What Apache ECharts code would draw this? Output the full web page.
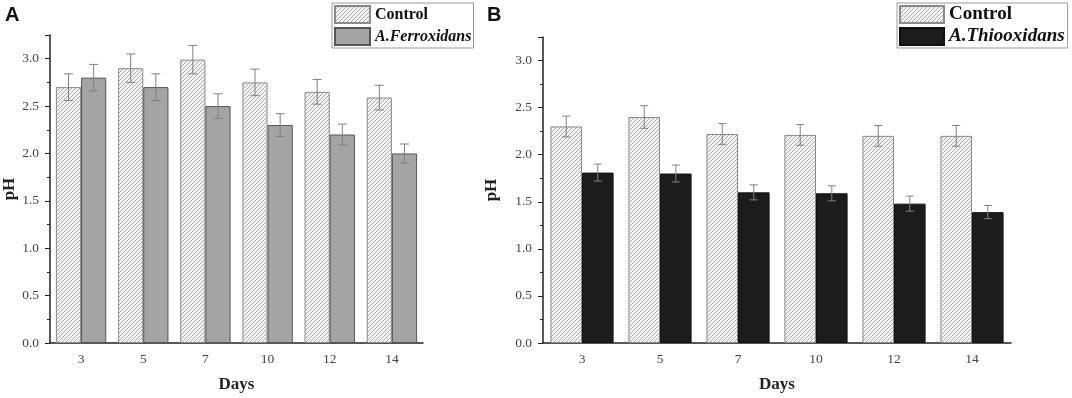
<!DOCTYPE html>
<html>
<head>
<meta charset="utf-8">
<title>pH vs days</title>
<script src="https://cdn.jsdelivr.net/npm/echarts@6/dist/echarts.min.js"></script>
<style>
    html, body { margin: 0; padding: 0; background: #fff; }
    #main { width: 1072px; height: 398px; }
</style>
</head>
<body>
<div id="main"></div>
<script>
// categories (days)
var days = ['3', '5', '7', '10', '12', '14'];

// panel A: control vs A. ferroxidans
var controlA = [2.70, 2.90, 2.99, 2.75, 2.65, 2.59];
var controlAErr = [0.14, 0.15, 0.15, 0.14, 0.13, 0.13];
var ferroA = [2.80, 2.70, 2.50, 2.30, 2.20, 2.00];
var ferroAErr = [0.14, 0.14, 0.13, 0.12, 0.11, 0.10];

// panel B: control vs A. thiooxidans
var controlB = [2.30, 2.40, 2.22, 2.21, 2.20, 2.20];
var controlBErr = [0.11, 0.12, 0.11, 0.11, 0.11, 0.11];
var thioB = [1.81, 1.80, 1.60, 1.59, 1.48, 1.39];
var thioBErr = [0.09, 0.09, 0.08, 0.08, 0.08, 0.07];

// y axis range / step
var yMax = 3.25;
var yStep = 0.5;

var SERIF = 'Liberation Serif';
var GAP = 0.19;

/**
 * diagonal hatch pattern used for the control bars
 *
 * @return {Object} canvas tile
 */
function hatch() {
    var c = document.createElement('canvas');
    c.width = 4;
    c.height = 4;
    var ctx = c.getContext('2d');
    ctx.fillStyle = '#f3f3f3';
    ctx.fillRect(0, 0, 4, 4);
    ctx.strokeStyle = '#a2a2a2';
    ctx.lineWidth = 0.9;
    ctx.beginPath();
    ctx.moveTo(-1, 5); ctx.lineTo(5, -1);
    ctx.moveTo(-1, 1); ctx.lineTo(1, -1);
    ctx.moveTo(3, 5); ctx.lineTo(5, 3);
    ctx.stroke();
    return c;
}
var hatchFill = { image: hatch(), repeat: 'repeat' };

/**
 * render error bars on top of the grouped bars
 *
 * @param  {number} side -1 for left bar, 1 for right bar
 * @param  {number} cap  half width of the caps
 * @return {Function} renderItem
 */
function errorBars(side, cap) {
    return function (params, api) {
        var cat = api.value(0);
        var mean = api.value(1);
        var err = api.value(2);
        var band = api.size([1, 0])[0];
        var dx = side * band * (1 - GAP) / 4;
        var top = api.coord([cat, mean + err]);
        var bot = api.coord([cat, mean - err]);
        var x = top[0] + dx;
        var style = { stroke: '#808080', lineWidth: 1 };
        return {
            type: 'group',
            children: [
                { type: 'line', shape: { x1: x, y1: top[1], x2: x, y2: bot[1] }, style: style },
                { type: 'line', shape: { x1: x - cap, y1: top[1], x2: x + cap, y2: top[1] }, style: style },
                { type: 'line', shape: { x1: x - cap, y1: bot[1], x2: x + cap, y2: bot[1] }, style: style }
            ]
        };
    };
}

function errData(mean, err) {
    return days.map(function (d, i) {
        return [i, mean[i], err[i]];
    });
}

function xAxis(grid) {
    return {
        type: 'category',
        gridIndex: grid,
        data: days,
        name: 'Days',
        nameLocation: 'middle',
        nameGap: 33,
        nameTextStyle: { fontFamily: SERIF, fontWeight: 'bold', fontSize: 17, color: '#222' },
        axisLine: { lineStyle: { color: '#222', width: 1.5 } },
        axisTick: { alignWithLabel: true, length: 5, lineStyle: { color: '#222' } },
        axisLabel: { fontFamily: SERIF, fontSize: 13.5, color: '#444', margin: 9 }
    };
}

// small ticks at the category boundaries
function boundaryAxis(grid) {
    return {
        type: 'category',
        gridIndex: grid,
        data: days,
        axisLine: { show: false },
        axisTick: { length: 2, lineStyle: { color: '#222' } },
        axisLabel: { show: false }
    };
}

function yAxis(grid, gap) {
    return {
        type: 'value',
        gridIndex: grid,
        min: 0,
        max: yMax,
        interval: yStep,
        name: 'pH',
        nameLocation: 'middle',
        nameGap: gap,
        nameRotate: 90,
        nameTextStyle: { fontFamily: SERIF, fontWeight: 'bold', fontSize: 17, color: '#222' },
        splitLine: { show: false },
        axisLine: { show: true, lineStyle: { color: '#222', width: 1.5 } },
        axisTick: { show: true, length: 5, lineStyle: { color: '#222' } },
        minorTick: { show: true, splitNumber: 2, length: 3, lineStyle: { color: '#222' } },
        axisLabel: {
            fontFamily: SERIF, fontSize: 13.5, color: '#444', margin: 11,
            showMaxLabel: false,
            formatter: function (v) { return v.toFixed(1); }
        }
    };
}

function legend(left, w, h, size, names, pad) {
    return {
        left: left,
        top: 3,
        orient: 'vertical',
        icon: 'rect',
        itemWidth: w,
        itemHeight: h,
        itemGap: 3,
        padding: pad,
        borderColor: '#999',
        borderWidth: 1,
        backgroundColor: '#fff',
        selectedMode: false,
        textStyle: { fontFamily: SERIF, fontSize: size, color: '#111' },
        data: [
            { name: names[0], textStyle: { fontWeight: 'bold' } },
            { name: names[1], textStyle: { fontWeight: 'bold', fontStyle: 'italic' } }
        ]
    };
}

var chart = echarts.init(document.getElementById('main'));
chart.setOption({
    animation: false,
    graphic: [
        { type: 'text', left: 5, top: 5, style: { text: 'A', font: 'bold 20px "Liberation Sans"', fill: '#111' } },
        { type: 'text', left: 487, top: 5, style: { text: 'B', font: 'bold 20px "Liberation Sans"', fill: '#111' } }
    ],
    legend: [
        legend(332, 35, 17, 16, ['Control', 'A.Ferroxidans'], [2, 2, 2, 2]),
        legend(897, 44, 17, 19, ['Control', 'A.Thiooxidans'], [2, 3, 2, 2])
    ],
    grid: [
        { left: 45, right: 649, top: 35, bottom: 52 },
        { left: 543, right: 61, top: 37, bottom: 53 }
    ],
    xAxis: [xAxis(0), xAxis(1), boundaryAxis(0), boundaryAxis(1)],
    yAxis: [yAxis(0, 32), yAxis(1, 43)],
    series: [
        {
            name: 'Control', type: 'bar', xAxisIndex: 0, yAxisIndex: 0,
            barGap: 0, barCategoryGap: GAP * 100 + '%',
            itemStyle: { color: hatchFill, borderColor: '#8a8a8a', borderWidth: 1 },
            data: controlA
        },
        {
            name: 'A.Ferroxidans', type: 'bar', xAxisIndex: 0, yAxisIndex: 0,
            barGap: 0, barCategoryGap: GAP * 100 + '%',
            itemStyle: { color: '#a4a4a4', borderColor: '#555', borderWidth: 1 },
            data: ferroA
        },
        {
            name: 'Control', type: 'bar', xAxisIndex: 1, yAxisIndex: 1,
            barGap: 0, barCategoryGap: GAP * 100 + '%',
            itemStyle: { color: hatchFill, borderColor: '#8a8a8a', borderWidth: 1 },
            data: controlB
        },
        {
            name: 'A.Thiooxidans', type: 'bar', xAxisIndex: 1, yAxisIndex: 1,
            barGap: 0, barCategoryGap: GAP * 100 + '%',
            itemStyle: { color: '#1c1c1c', borderColor: '#111', borderWidth: 1 },
            data: thioB
        },
        {
            type: 'custom', xAxisIndex: 0, yAxisIndex: 0, z: 5,
            renderItem: errorBars(-1, 4.5), encode: { x: 0, y: 1 },
            data: errData(controlA, controlAErr)
        },
        {
            type: 'custom', xAxisIndex: 0, yAxisIndex: 0, z: 5,
            renderItem: errorBars(1, 4.5), encode: { x: 0, y: 1 },
            data: errData(ferroA, ferroAErr)
        },
        {
            type: 'custom', xAxisIndex: 1, yAxisIndex: 1, z: 5,
            renderItem: errorBars(-1, 4), encode: { x: 0, y: 1 },
            data: errData(controlB, controlBErr)
        },
        {
            type: 'custom', xAxisIndex: 1, yAxisIndex: 1, z: 5,
            renderItem: errorBars(1, 4), encode: { x: 0, y: 1 },
            data: errData(thioB, thioBErr)
        }
    ]
});
</script>
</body>
</html>
